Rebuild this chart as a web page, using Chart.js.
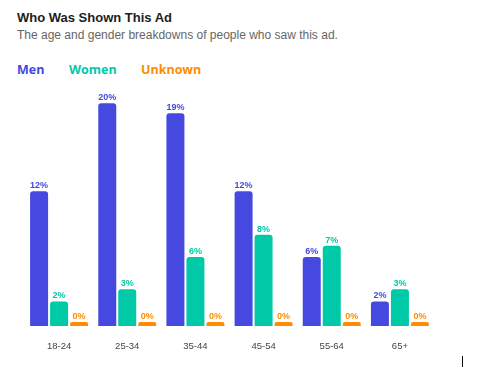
<!DOCTYPE html>
<html>
<head>
<meta charset="utf-8">
<script src="https://cdn.jsdelivr.net/npm/chart.js@4"></script>
<style>
    body { margin: 0; width: 492px; height: 367px; background: #fff; position: relative; overflow: hidden; font-family: "Liberation Sans", Arial, sans-serif; }
    #title { position: absolute; left: 17px; top: 10px; font-size: 13px; font-weight: bold; color: #1d1d1d; }
    #subtitle { position: absolute; left: 17px; top: 28px; font-size: 12px; color: #666; }
    #legend { position: absolute; left: 17px; top: 61px; font-size: 12.5px; font-weight: bold; font-family: "Open Sans", sans-serif; }
    #legend span { position: absolute; white-space: nowrap; }
    #chart-wrap { position: absolute; left: 0; top: 80px; width: 492px; height: 287px; }
    #cursor { position: absolute; left: 462px; top: 356px; width: 1px; height: 11px; background: #000; }
</style>
</head>
<body>
<div id="title">Who Was Shown This Ad</div>
<div id="subtitle">The age and gender breakdowns of people who saw this ad.</div>
<div id="legend"></div>
<div id="chart-wrap"><canvas id="ad-chart"></canvas></div>
<div id="cursor"></div>

<script>
// Age groups and share of people (%) per gender
const ageGroups = ['18-24', '25-34', '35-44', '45-54', '55-64', '65+'];
const seriesNames = ['Men', 'Women', 'Unknown'];
const seriesColors = ['#4549e0', '#00c9a8', '#ff8c00'];
const menValues = [12.1, 20, 19.1, 12.1, 6.2, 2.2];
const womenValues = [2.2, 3.3, 6.2, 8.2, 7.2, 3.3];
const unknownValues = [0, 0, 0, 0, 0, 0];

// Legend as plain text labels
const legendOffsets = [0, 52, 124];
const legend = document.getElementById('legend');
seriesNames.forEach((name, i) => {
    const span = document.createElement('span');
    span.textContent = name;
    span.style.color = seriesColors[i];
    span.style.left = legendOffsets[i] + 'px';
    legend.appendChild(span);
});

// Draw the "12%" style labels above each bar
const valueLabels = {
    id: 'valueLabels',
    afterDatasetsDraw(chart) {
        const ctx = chart.ctx;
        ctx.save();
        ctx.font = 'bold 9px "Liberation Sans", Arial, sans-serif';
        ctx.textAlign = 'center';
        ctx.textBaseline = 'bottom';
        chart.data.datasets.forEach((ds, i) => {
            const meta = chart.getDatasetMeta(i);
            ctx.fillStyle = ds.backgroundColor;
            meta.data.forEach((bar, j) => {
                ctx.fillText(Math.round(ds.data[j]) + '%', bar.x, bar.y - 1);
            });
        });
        ctx.restore();
    }
};

const valueSets = [menValues, womenValues, unknownValues];

new Chart(document.getElementById('ad-chart'), {
    type: 'bar',
    data: {
        labels: ageGroups,
        datasets: seriesNames.map((name, i) => ({
            label: name,
            data: valueSets[i],
            backgroundColor: seriesColors[i],
            borderRadius: { topLeft: 3, topRight: 3 },
            borderSkipped: 'bottom',
            minBarLength: 4,
            categoryPercentage: 0.88,
            barPercentage: 0.9
        }))
    },
    options: {
        responsive: true,
        maintainAspectRatio: false,
        animation: false,
        layout: { padding: { left: 25, right: 58, top: 12, bottom: 0 } },
        plugins: {
            legend: { display: false },
            tooltip: { enabled: false }
        },
        scales: {
            x: {
                grid: { display: false, drawTicks: false },
                border: { display: false },
                ticks: {
                    color: '#444',
                    padding: 15,
                    font: { size: 9.5, family: '"Liberation Sans", Arial, sans-serif' }
                },
                afterFit(scale) { scale.height = 41; }
            },
            y: {
                display: false,
                min: 0,
                max: 21
            }
        }
    },
    plugins: [valueLabels]
});
</script>
</body>
</html>
